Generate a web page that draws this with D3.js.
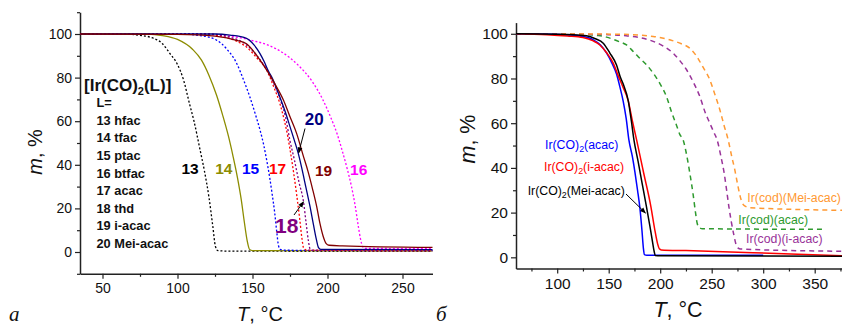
<!DOCTYPE html>
<html>
<head>
<meta charset="utf-8">
<script src="https://cdn.jsdelivr.net/npm/d3@7"></script>
<style>
  body { margin: 0; background: #fff; }
  svg { display: block; }
</style>
</head>
<body>
<div id="hook-tga"></div>
<script>
'use strict';

// ---- data: T (°C), m (%) ----

// panel a, [Ir(CO)2(L)]
var tg13 = [[35,100],[65,100],[75,99.4],[82,98.5],[90,95.5],[95,91],[100,86],[104,79],[108,68],[111,60],[115,47],[118,37],[121,25],[123.5,12],[125.3,2.5],[127,0.6],[135,0.4],[270,0.3]];
var tg14 = [[35,100],[80,100],[90,99.3],[100,97.5],[110,93],[116,88],[121,81],[126,72],[130,63],[134,53],[137,44],[140,34],[142.5,24],[144.5,14],[146.5,5],[148,1.2],[150,0.6],[270,0.5]];
var tg15 = [[35,100],[100,100],[115,99.3],[126,97.2],[133,93],[139.4,86.6],[144,79],[148.3,71],[152,63],[155,56],[157.5,49],[159.5,42],[161.5,34],[163,27],[164.8,18],[166.2,9],[167.3,3],[168.5,1.2],[172,0.8],[270,0.7]];
var tg16 = [[35,100],[115,100],[130,99.3],[140,98.5],[150,97],[160,95],[170,91.5],[180,86],[190,78],[196.8,70],[202,62],[206.5,54],[210,46],[213.2,38],[216,30],[218.5,21],[220.5,12],[222,6],[223.5,2.4],[225,1.7],[270,1.5]];
var tg17 = [[35,100],[120,100],[130,98.8],[140,96.5],[146,94],[153,89],[159.4,83.5],[164,76],[168.3,68],[171,61],[173.5,53],[175.5,45],[177.5,36],[179.5,26],[181.5,15],[183,6],[184,2],[186,0.9],[270,0.6]];
var tg18 = [[35,100],[120,100],[135,98.5],[146,95],[153,90],[160,83],[165,76],[169,69],[172,62],[175,51],[178,42],[181,32],[184,23],[185.8,13],[187.3,5],[188.3,1.5],[190,0.7],[270,0.5]];
var tg19 = [[35,100],[100,99.8],[125,99],[140,97],[146,95.5],[153,90],[159.4,83.5],[165,77],[170.6,69.7],[175,62],[179.4,54.4],[183.9,44],[187,37],[190,29],[192.8,20.8],[195,13],[197.2,7],[199,4],[201,3.1],[210,2.8],[270,2.1]];
var tg20 = [[35,100],[125,100],[135,99.5],[146,98],[151,95],[155,91],[158,87],[160.6,83],[163,80],[168.3,71],[172,64],[175,57.5],[178,51],[180.6,45],[183,38],[185.5,30],[188.3,21],[190.5,13],[192.5,6],[194,2],[195.5,1.2],[270,1.1]];

var seriesA = [tg13, tg14, tg15, tg16, tg17, tg18, tg20, tg19];
var numbersA = ['13', '14', '15', '16', '17', '18', '20', '19'];
var ligandsA = ['L=', '13 hfac', '14 tfac', '15 ptac', '16 btfac', '17 acac', '18 thd', '19 i-acac', '20 Mei-acac'];

// panel б
var coAcac = [[60,100],[96,99.8],[110,99.5],[122,99],[135,97.3],[142,95],[148,91.3],[153,87],[157.6,82],[161,76],[164,70],[167,62],[169.6,52.5],[173,45],[175.5,38],[178,30],[180.3,22],[182.3,12],[183.7,4],[184.7,1.2],[187,0.9],[300,0.9]];
var coIacac = [[60,100],[90,99.6],[110,99],[125,98.3],[135,96.8],[141.4,95],[148,91.5],[154.4,86.9],[159,81.5],[164,76],[169,70],[173,61],[177.1,52.5],[184,37.6],[191,22.6],[194.5,13],[197.5,6],[199.2,3.8],[201,3.3],[225,3],[290,2.1],[380,0.6]];
var coMeiacac = [[60,100],[100,99.8],[120,99.4],[128.5,99.1],[137,97.8],[144.7,95.8],[151,91.5],[157.6,86],[161,81],[164.1,77.5],[169,70],[172,61],[174.5,52.5],[178.5,43],[182.5,33],[186.5,23],[190,14],[192.5,7],[194.2,2.5],[195.2,0.8],[200,0.7],[380,0.5]];
var codAcac = [[60,100],[120,99.8],[140,99.2],[147.9,98.5],[160,96.5],[167.3,95],[174,92],[180.3,89],[187,86],[193.2,82.4],[200,77.5],[206.1,71.9],[211,65],[215.9,59],[219,55],[222.3,52.5],[226,45],[229,37],[232,28],[234.3,20],[236,15],[238,13.3],[241,12.8],[360,12.5]];
var codIacac = [[60,100],[150,99.6],[167,99.1],[180,98.3],[193.2,96.6],[203,94.5],[212.6,91.3],[219,88],[225.6,83.9],[232,78.5],[238.5,71.9],[243.5,65],[248.2,60],[252,56],[255.3,52.5],[259,45],[262,38],[264.5,30],[266.7,22.6],[269,16],[271.5,10],[273.5,6],[275.5,4.2],[278,3.7],[380,2.7]];
var codMeiacac = [[60,100],[160,99.8],[193.2,98.8],[210,97.2],[219.1,95.8],[230,93],[235.3,90],[241,85.5],[248.2,79.4],[253,73],[257.9,66],[262,59],[266,52.5],[269.5,45],[272.5,39],[275,33],[277.5,27.5],[279.5,24.5],[282,23],[287,22.2],[380,21]];

var seriesB = [codAcac, codIacac, codMeiacac, coAcac, coIacac, coMeiacac];
var namesB = ['Ir(cod)(acac)', 'Ir(cod)(i-acac)', 'Ir(cod)(Mei-acac)', 'Ir(CO)2(acac)', 'Ir(CO)2(i-acac)', 'Ir(CO)2(Mei-acac)'];

var xTicksA = [50, 100, 150, 200, 250];
var yTicksA = [0, 20, 40, 60, 80, 100];
var xTicksB = [100, 150, 200, 250, 300, 350];
var yTicksB = [0, 20, 40, 60, 80, 100];

// ---- styles and layout ----
var font = '"Liberation Sans", Arial, sans-serif';

var stylesA = [
  { color: '#000000', dash: '2,2' },
  { color: '#8c8c00', dash: null },
  { color: '#0000ff', dash: '2,2' },
  { color: '#ff00ff', dash: '2,2' },
  { color: '#ff0000', dash: '2,2' },
  { color: '#800080', dash: '2,2' },
  { color: '#000080', dash: null },
  { color: '#800000', dash: null }
];
// label position (centre x, baseline y) and size for the curve numbers
var numPos = [
  [190, 173.5, 15.5], [223.8, 173.5, 15.5], [250.5, 173.5, 15.5], [358.7, 175, 15.5],
  [277.5, 173.5, 15.5], [286.7, 232.5, 21], [314.2, 124.5, 17], [323.5, 176, 15.5]
];

var stylesB = [
  { color: '#2e9a2e', dash: '5,4', label: [738.3, 224] },
  { color: '#993399', dash: '5,4', label: [746, 242.7] },
  { color: '#ff9933', dash: '5,4', label: [747.3, 202.3] },
  { color: '#0000ff', dash: null, label: [545, 148.5] },
  { color: '#ff0000', dash: null, label: [544, 170.7] },
  { color: '#000000', dash: null, label: [527.7, 195] }
];

var options = {
  width: 842,
  height: 327,
  a: { left: 80, right: 432.5, top: 12.2, bottom: 273.8, xDom: [35, 270], yDom: [-10, 110], tickFont: 14 },
  b: { left: 516, right: 845.6, top: 22.6, bottom: 268.5, xDom: [60, 380], yDom: [-5, 105], tickFont: 15.5 }
};

function drawAxes(g, x, y, p, xTicks, yTicks, xMinor, yMinor) {
  g.append('g')
    .attr('transform', 'translate(0,' + p.bottom + ')')
    .call(d3.axisBottom(x).tickValues(xTicks).tickSize(5).tickPadding(4).tickSizeOuter(0));
  g.append('g')
    .attr('transform', 'translate(0,' + p.bottom + ')')
    .call(d3.axisBottom(x).tickValues(xMinor).tickSize(3).tickFormat('').tickSizeOuter(0))
    .select('.domain').remove();
  g.append('g')
    .attr('transform', 'translate(' + p.left + ',0)')
    .call(d3.axisLeft(y).tickValues(yTicks).tickSize(5).tickPadding(3).tickSizeOuter(0));
  g.append('g')
    .attr('transform', 'translate(' + p.left + ',0)')
    .call(d3.axisLeft(y).tickValues(yMinor).tickSize(3).tickFormat('').tickSizeOuter(0))
    .select('.domain').remove();

  g.selectAll('.domain').attr('stroke', '#222').attr('stroke-width', 1.5);
  g.selectAll('.tick line').attr('stroke', '#222').attr('stroke-width', 1.2);
  g.selectAll('.tick text')
    .attr('font-family', font)
    .attr('font-size', p.tickFont)
    .attr('fill', '#111');
}

function minorTicks(dom, step, majors) {
  var out = [];
  var v;
  for (v = Math.ceil(dom[0] / step) * step; v <= dom[1]; v += step) {
    if (majors.indexOf(v) < 0) out.push(v);
  }
  return out;
}

function axisLabels(svg, xl, xb, xs, yl, yc, ys) {
  var t = svg.append('text')
    .attr('x', xl).attr('y', xb)
    .attr('text-anchor', 'middle')
    .attr('font-family', font).attr('font-size', xs).attr('fill', '#111');
  t.append('tspan').attr('font-style', 'italic').text('T');
  t.append('tspan').text(', \u00b0C');

  var m = svg.append('text')
    .attr('transform', 'translate(' + yl + ',' + yc + ') rotate(-90)')
    .attr('text-anchor', 'middle')
    .attr('font-family', font).attr('font-size', ys).attr('fill', '#111');
  m.append('tspan').attr('font-style', 'italic').text('m');
  m.append('tspan').text(', %');
}

function subText(sel, str) {
  // "Ir(CO)2(...)" -> subscript 2
  var i = str.indexOf(')2(');
  if (i < 0) { sel.text(str); return; }
  sel.append('tspan').text(str.slice(0, i + 1));
  sel.append('tspan').attr('dy', 3).attr('font-size', '0.72em').text('2');
  sel.append('tspan').attr('dy', -3).text(str.slice(i + 2));
}

function update(options) {

  var svg = d3.select('#hook-tga')
    .append('svg')
    .attr('width', options.width)
    .attr('height', options.height);

  var defs = svg.append('defs');
  defs.append('marker')
    .attr('id', 'arrow')
    .attr('viewBox', '0 0 10 10')
    .attr('refX', 9).attr('refY', 5)
    .attr('markerWidth', 6).attr('markerHeight', 6)
    .attr('orient', 'auto')
    .append('path')
    .attr('d', 'M0,1 L10,5 L0,9 Z')
    .attr('fill', '#000');

  // ---------- panel a ----------
  var pa = options.a;
  var xa = d3.scaleLinear().domain(pa.xDom).range([pa.left, pa.right]);
  var ya = d3.scaleLinear().domain(pa.yDom).range([pa.bottom, pa.top]);
  var ga = svg.append('g');

  drawAxes(ga, xa, ya, pa, xTicksA, yTicksA,
    minorTicks(pa.xDom, 25, xTicksA), minorTicks(pa.yDom, 10, yTicksA));

  var lineA = d3.line()
    .x(function(d) { return xa(d[0]); })
    .y(function(d) { return ya(d[1]); })
    .curve(d3.curveMonotoneX);

  seriesA.forEach(function(s, i) {
    ga.append('path')
      .datum(s)
      .attr('d', lineA)
      .attr('fill', 'none')
      .attr('stroke', stylesA[i].color)
      .attr('stroke-width', 1.3)
      .attr('stroke-dasharray', stylesA[i].dash);
  });

  numbersA.forEach(function(n, i) {
    ga.append('text')
      .attr('x', numPos[i][0]).attr('y', numPos[i][1])
      .attr('text-anchor', 'middle')
      .attr('font-family', font).attr('font-weight', 'bold')
      .attr('font-size', numPos[i][2])
      .attr('fill', stylesA[i].color)
      .text(n);
  });

  // arrows to curves 20 and 18
  ga.append('line')
    .attr('x1', 305).attr('y1', 128.5).attr('x2', xa(180.8)).attr('y2', ya(45.5))
    .attr('stroke', '#000').attr('stroke-width', 1).attr('marker-end', 'url(#arrow)');
  ga.append('line')
    .attr('x1', 294).attr('y1', 215).attr('x2', xa(184)).attr('y2', ya(23))
    .attr('stroke', '#000').attr('stroke-width', 1).attr('marker-end', 'url(#arrow)');

  var head = ga.append('text')
    .attr('x', 84).attr('y', 90.5)
    .attr('font-family', font).attr('font-weight', 'bold').attr('font-size', 17)
    .attr('fill', '#111');
  head.append('tspan').text('[Ir(CO)');
  head.append('tspan').attr('dy', 4).attr('font-size', 11).text('2');
  head.append('tspan').attr('dy', -4).text('(L)]');

  ga.selectAll('text.lig')
    .data(ligandsA)
    .enter()
    .append('text')
    .attr('class', 'lig')
    .attr('x', 96.5)
    .attr('y', function(d, i) { return 107.3 + 17.55 * i; })
    .attr('font-family', font).attr('font-weight', 'bold').attr('font-size', 12.8)
    .attr('fill', '#111')
    .text(function(d) { return d; });

  axisLabels(svg, 260, 321, 20, 42, 152, 20);

  // ---------- panel б ----------
  var pb = options.b;
  var xb = d3.scaleLinear().domain(pb.xDom).range([pb.left, pb.right]);
  var yb = d3.scaleLinear().domain(pb.yDom).range([pb.bottom, pb.top]);
  var gb = svg.append('g');

  drawAxes(gb, xb, yb, pb, xTicksB, yTicksB,
    minorTicks(pb.xDom, 25, xTicksB), minorTicks(pb.yDom, 10, yTicksB));

  var lineB = d3.line()
    .x(function(d) { return xb(d[0]); })
    .y(function(d) { return yb(d[1]); })
    .curve(d3.curveMonotoneX);

  seriesB.forEach(function(s, i) {
    gb.append('path')
      .datum(s)
      .attr('d', lineB)
      .attr('fill', 'none')
      .attr('stroke', stylesB[i].color)
      .attr('stroke-width', 1.5)
      .attr('stroke-dasharray', stylesB[i].dash);
  });

  namesB.forEach(function(n, i) {
    var t = gb.append('text')
      .attr('x', stylesB[i].label[0]).attr('y', stylesB[i].label[1])
      .attr('font-family', font).attr('font-size', 12.3)
      .attr('fill', stylesB[i].color);
    subText(t, n);
  });

  gb.append('line')
    .attr('x1', 626).attr('y1', 194).attr('x2', 645.5).attr('y2', 213)
    .attr('stroke', '#000').attr('stroke-width', 1).attr('marker-end', 'url(#arrow)');

  axisLabels(svg, 678, 317, 21.5, 475, 139, 21.5);

  // panel letters
  svg.append('text')
    .attr('x', 9).attr('y', 321)
    .attr('font-family', '"Liberation Serif", "Times New Roman", serif')
    .attr('font-style', 'italic').attr('font-size', 21).attr('fill', '#111')
    .text('a');
  svg.append('text')
    .attr('x', 436).attr('y', 321)
    .attr('font-family', '"Liberation Serif", "Times New Roman", serif')
    .attr('font-style', 'italic').attr('font-size', 21).attr('fill', '#111')
    .text('\u0431');
}

update(options);
</script>
</body>
</html>
